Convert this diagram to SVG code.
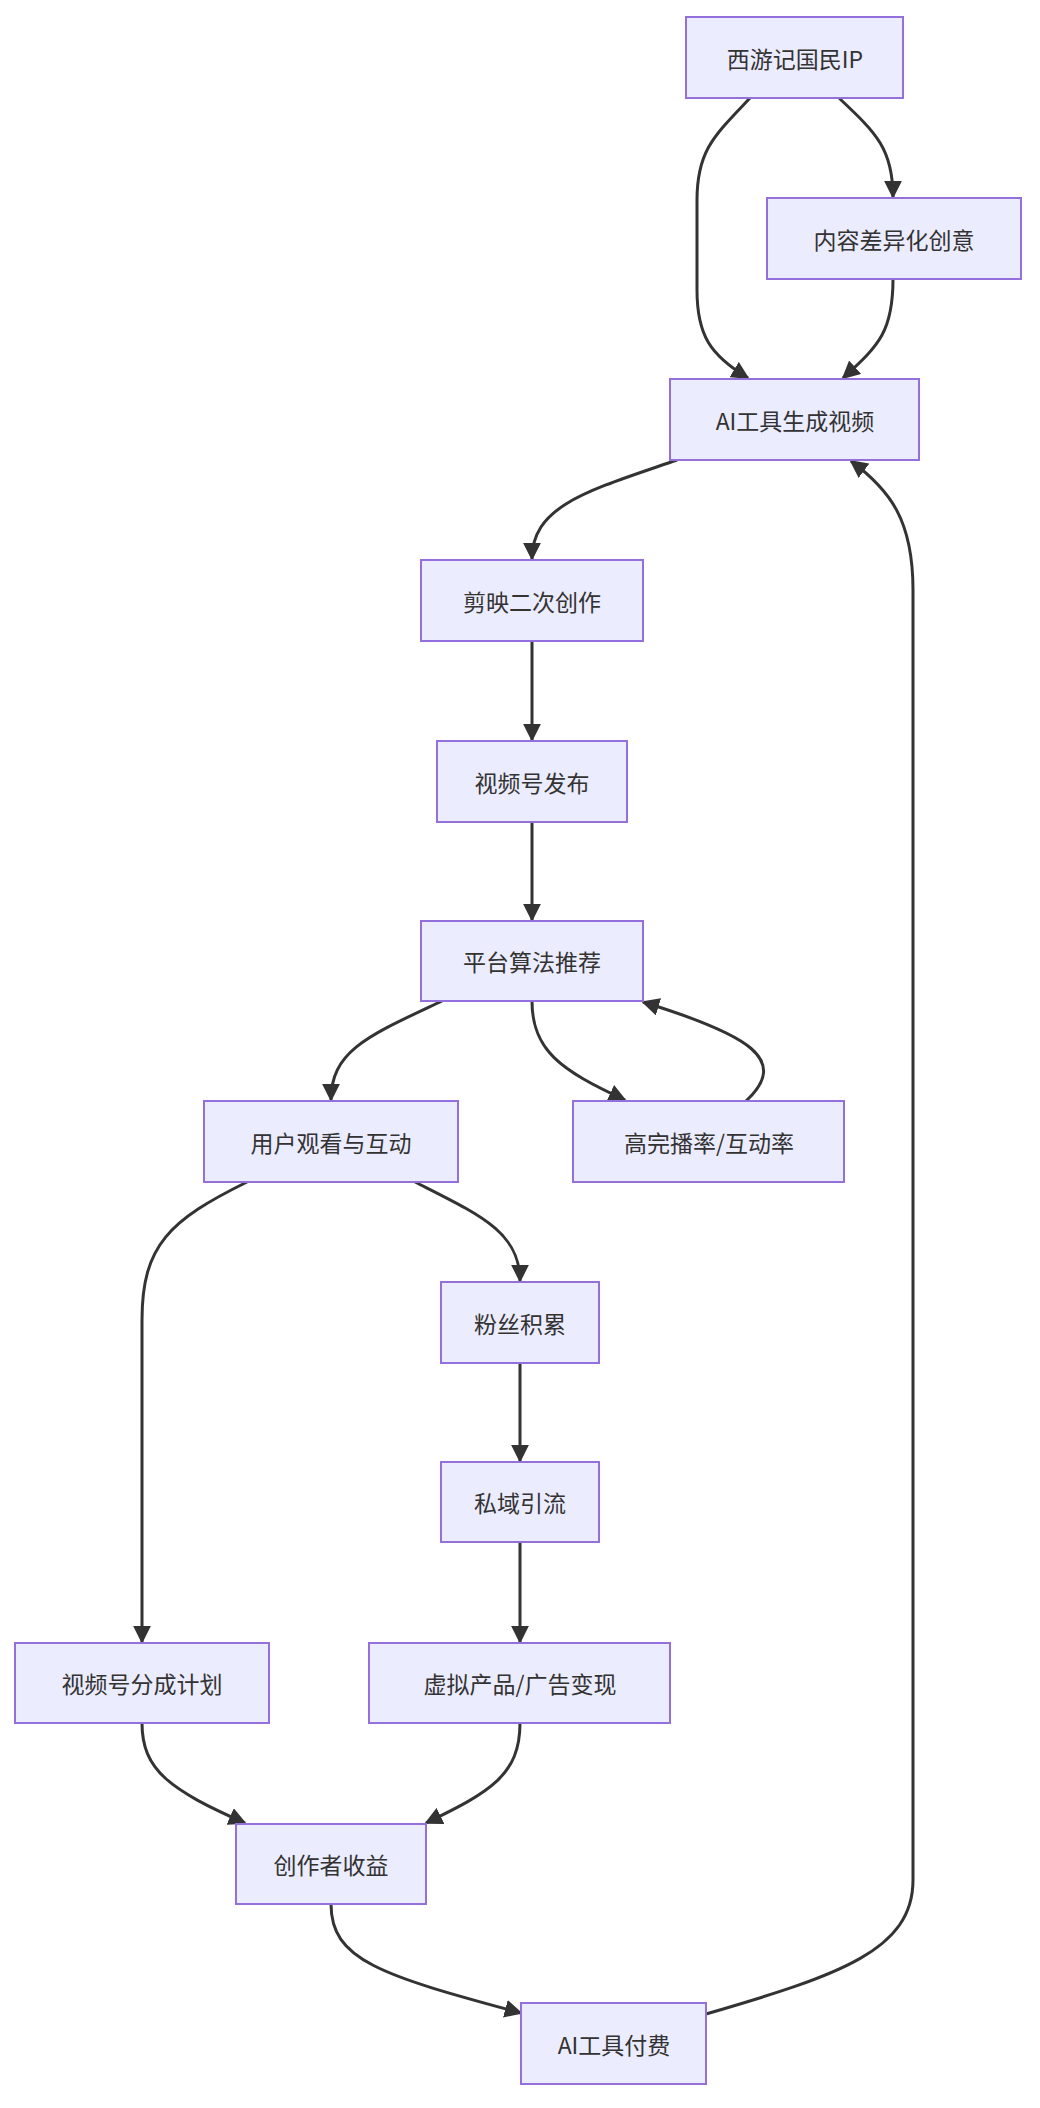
<svg xmlns="http://www.w3.org/2000/svg" width="1040" height="2108" viewBox="0 0 1040 2108">
<style>
.n rect{fill:#ECECFF;stroke:#9370DB;stroke-width:2}
.n text{font-family:"Noto Sans CJK SC","Liberation Sans",sans-serif;font-size:23px;fill:#333;text-anchor:middle;dominant-baseline:central}
#edges path{fill:none;stroke:#333;stroke-width:3;marker-end:url(#ah)}
</style>
<defs><marker id="ah" viewBox="0 0 10 10" refX="9" refY="5" markerWidth="18" markerHeight="18" markerUnits="userSpaceOnUse" orient="auto"><path d="M0,0L10,5L0,10z" fill="#333"/></marker></defs>
<rect width="1040" height="2108" fill="#fff"/>
<g id="edges">
<path d="M750,98 C715,135 697,150 697,200 L697,290 C697,335 710,355 748,378"/>
<path d="M839,98 C875,132 893,148 893,197"/>
<path d="M893,279 C893,330 880,345 843,378"/>
<path d="M677,460 C590,490 532,505 532,559"/>
<path d="M532,641 L532,740"/>
<path d="M532,822 L532,920"/>
<path d="M442,1001 C370,1035 331,1050 331,1100"/>
<path d="M532,1001 C532,1050 560,1070 625,1100"/>
<path d="M746,1101 C790,1060 750,1035 643,1002"/>
<path d="M247,1182 C170,1220 142,1245 142,1320 L142,1642"/>
<path d="M415,1182 C480,1215 520,1232 520,1281"/>
<path d="M520,1363 L520,1461"/>
<path d="M520,1542 L520,1642"/>
<path d="M142,1723 C142,1770 170,1790 245,1823"/>
<path d="M520,1723 C520,1775 490,1792 426,1823"/>
<path d="M331,1904 C331,1960 380,1975 521,2013"/>
<path d="M706,2014 C840,1975 913,1950 913,1880 L913,590 C913,520 890,490 851,461"/>
</g>
<g id="n1" class="n"><rect x="686" y="17" width="217" height="81"/><text x="795" y="58">西游记国民IP</text></g>
<g id="n2" class="n"><rect x="767" y="198" width="254" height="81"/><text x="894" y="239">内容差异化创意</text></g>
<g id="n3" class="n"><rect x="670" y="379" width="249" height="81"/><text x="795" y="420">AI工具生成视频</text></g>
<g id="n4" class="n"><rect x="421" y="560" width="222" height="81"/><text x="532" y="601">剪映二次创作</text></g>
<g id="n5" class="n"><rect x="437" y="741" width="190" height="81"/><text x="532" y="782">视频号发布</text></g>
<g id="n6" class="n"><rect x="421" y="921" width="222" height="80"/><text x="532" y="961">平台算法推荐</text></g>
<g id="n7" class="n"><rect x="204" y="1101" width="254" height="81"/><text x="331" y="1142">用户观看与互动</text></g>
<g id="n8" class="n"><rect x="573" y="1101" width="271" height="81"/><text x="709" y="1142">高完播率/互动率</text></g>
<g id="n9" class="n"><rect x="441" y="1282" width="158" height="81"/><text x="520" y="1323">粉丝积累</text></g>
<g id="n10" class="n"><rect x="441" y="1462" width="158" height="80"/><text x="520" y="1502">私域引流</text></g>
<g id="n11" class="n"><rect x="15" y="1643" width="254" height="80"/><text x="142" y="1683">视频号分成计划</text></g>
<g id="n12" class="n"><rect x="369" y="1643" width="301" height="80"/><text x="520" y="1683">虚拟产品/广告变现</text></g>
<g id="n13" class="n"><rect x="236" y="1824" width="190" height="80"/><text x="331" y="1864">创作者收益</text></g>
<g id="n14" class="n"><rect x="521" y="2003" width="185" height="81"/><text x="614" y="2044">AI工具付费</text></g>
</svg>
